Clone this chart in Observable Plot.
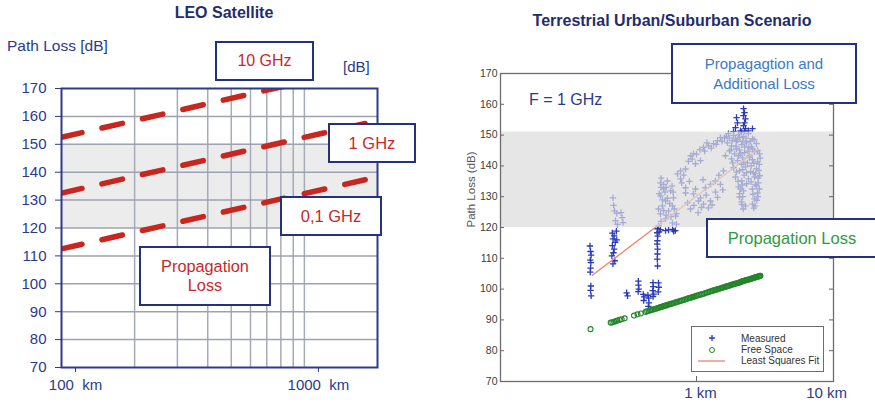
<!DOCTYPE html>
<html><head><meta charset="utf-8">
<script src="https://cdn.jsdelivr.net/npm/d3@7"></script>
<script src="https://cdn.jsdelivr.net/npm/@observablehq/plot@0.6"></script>
<style>
body{margin:0;background:#fff;font-family:"Liberation Sans",Arial,sans-serif;}
#wrap{position:relative;width:875px;height:408px;overflow:hidden;background:#fff;}
#wrap svg.chart{position:absolute;top:0;}
.t{position:absolute;white-space:nowrap;z-index:3;}
.box{position:absolute;box-sizing:border-box;border:2px solid #22327c;background:#fff;display:flex;flex-direction:column;align-items:center;justify-content:center;text-align:center;z-index:4;white-space:nowrap;}
.title{font-weight:bold;font-size:16px;color:#1f2d6e;transform:translate(-50%,-50%);}
</style></head><body><div id="wrap"></div>
<script>
// ---------- LEFT PANEL: LEO Satellite ----------
const leoDomainKm = [100, 2000];
const leoDomainDb = [70, 170];
const leoYTicks = [70, 80, 90, 100, 110, 120, 130, 140, 150, 160, 170];
const leoXTicks = [100, 1000];
const leoGridX = [200, 300, 400, 500, 600, 700, 800, 900, 1000];
const leoGridY = [80, 90, 100, 110, 120, 130, 140, 150, 160];
const leoBandDb = [120, 150];
const leoKm = [100, 2000];
const leoLoss10GHz = [152.5, 178.5];
const leoLoss1GHz = [132.5, 158.5];
const leoLoss01GHz = [112.5, 138.3];

// ---------- RIGHT PANEL: Terrestrial ----------
const terrDomainKm = [0.1, 5];
const terrDomainDb = [70, 170];
const terrYTicks = [70, 80, 90, 100, 110, 120, 130, 140, 150, 160, 170];
const terrBandDb = [120, 151];
const terrXLabels = [{km: 1, text: "1 km"}, {km: 4.4, text: "10 km"}];
const fitKm = [0.294, 2.07];
const fitDb = [104.5, 145.5];
const freeSpaceKm = [0.288,0.365,0.372,0.380,0.388,0.395,0.405,0.415,0.43,0.48,0.50,0.52,0.55,0.57,0.59,0.61,0.63,0.65,0.67,0.69,0.71,0.73,0.75,0.78,0.80,0.83,0.86,0.89,0.92,0.95,0.98,1.01,1.05,1.09,1.13,1.17,1.21,1.25,1.29,1.33,1.37,1.41,1.45,1.49,1.53,1.57,1.61,1.65,1.69,1.73,1.77,1.81,1.85,1.89,1.93,1.97,2.01,2.05,2.09,2.12,
 0.56,0.58,0.60,0.62,0.64,0.66,0.68,0.70,0.72,0.74,0.765,0.79,0.815,0.845,0.875,0.905,0.935,0.965,0.995,1.03,1.07,1.11,1.15,1.19,1.23,1.27,1.31,1.35,1.39,1.43,1.47,1.51,1.55,1.59,1.63,1.67,1.71,1.75,1.79,1.83,1.87,1.91,1.95,1.99,2.03,2.07,2.11];
const freeSpaceDb = [87.0,89.1,89.2,89.4,89.6,89.8,90.0,90.2,90.5,91.4,91.8,92.1,92.6,92.9,93.2,93.5,93.8,94.1,94.3,94.6,94.8,95.1,95.3,95.6,95.9,96.2,96.5,96.8,97.1,97.4,97.6,97.9,98.2,98.5,98.9,99.2,99.5,99.7,100.0,100.3,100.5,100.8,101.0,101.3,101.5,101.7,101.9,102.1,102.4,102.6,102.8,103.0,103.1,103.3,103.5,103.7,103.9,104.0,104.2,104.3,
 92.8,93.1,93.4,93.6,93.9,94.2,94.5,94.7,95.0,95.2,95.5,95.8,96.0,96.3,96.6,97.0,97.2,97.5,97.8,98.1,98.4,98.7,99.0,99.3,99.6,99.9,100.1,100.4,100.7,100.9,101.1,101.4,101.6,101.8,102.0,102.2,102.5,102.7,102.9,103.0,103.2,103.4,103.6,103.8,104.0,104.1,104.3];
// measured samples [km, dB]
const measured = [
 [0.286,114.0],[0.288,112.2],[0.29,111.0],[0.287,109.4],[0.289,108.6],[0.288,106.8],[0.287,105.5],[0.289,101.0],[0.288,99.6],[0.29,97.8],
 [0.372,118.2],[0.38,117.3],[0.375,116.3],[0.385,115.2],[0.372,114.1],[0.38,113.0],[0.377,111.8],[0.37,110.8],[0.383,109.2],[0.375,108.2],[0.39,118.8],[0.392,116.0],
 [0.375,129.6],[0.378,127.2],[0.382,125.4],[0.392,124.6],[0.386,122.2],[0.395,121.0],[0.412,124.8],[0.418,123.2],[0.422,121.6],
 [0.44,98.8],[0.445,97.8],
 [0.505,102.6],[0.506,101.3],[0.508,100.0],[0.504,99.2],
 [0.535,98.3],[0.54,97.5],[0.538,96.3],
 [0.565,98.0],[0.57,97.1],[0.572,95.5],[0.568,94.4],
 [0.6,102.1],[0.602,100.8],[0.598,99.5],[0.605,98.4],[0.6,97.6],
 [0.64,102.0],[0.642,100.6],[0.638,99.1],
 [0.632,119.6],[0.63,118.3],[0.634,117.2],[0.632,115.7],[0.63,114.6],[0.633,113.0],[0.632,111.4],[0.631,109.7],[0.633,107.5],
 [0.655,119.3],[0.695,119.0],[0.72,119.2],[0.755,119.4],[0.78,119.0],[0.645,118.6],[0.765,118.8],
 [0.655,134.5],[0.678,132.5],[0.655,130.3],[0.695,128.6],[0.67,127.0],[0.72,125.4],[0.655,124.4],[0.695,122.8],[0.754,121.5],[0.64,120.5],
 [0.737,131.9],[0.763,129.6],[0.782,123.7],[0.711,135.1],[0.754,127.0],[0.79,121.1],[0.64,126.0],[0.645,131.0],[0.66,122.0],[0.70,133.0],
 [0.66,133.0],[0.67,129.0],[0.68,125.5],[0.69,131.5],[0.70,124.0],[0.71,129.5],[0.73,127.8],[0.74,123.5],[0.75,133.5],[0.77,126.0],[0.66,136.0],[0.68,134.0],[0.76,131.5],[0.79,124.5],
 [0.80,137.4],[0.829,135.8],[0.879,132.9],[0.90,128.0],[0.932,143.3],[0.965,144.0],[0.988,132.5],[1.024,128.6],[1.086,146.0],[1.111,132.9],
 [1.151,146.5],[1.178,128.6],[1.221,147.2],[1.250,135.1],[1.280,148.2],[1.325,149.2],[1.39,149.2],[1.048,141.7],[0.988,140.7],[0.829,138.4],
 [0.879,139.0],[1.405,143.3],[1.373,138.4],[0.88,131.2],[0.965,130.9],[1.048,129.6],[1.086,127.6],[1.151,126.4],[1.25,131.5],[1.325,134.0],[1.02,124.8],[0.932,126.0],
 [0.84,134.5],[0.86,137.0],[0.91,141.5],[0.95,142.2],[1.00,143.8],[1.04,145.3],[1.10,144.8],[1.13,147.5],[1.19,145.8],[1.26,147.0],[1.35,148.0],[1.42,149.6],
 [0.97,127.2],[1.06,126.5],[1.12,130.5],[1.20,127.3],[1.28,129.8],[1.36,132.2],[1.30,137.0],[1.18,134.0],[1.08,135.5],[0.92,135.0],
 [1.456,150.5],[1.545,149.8],[1.638,150.1],[1.738,149.5],[1.841,150.5],[1.930,148.8],
 [1.439,147.5],[1.509,146.5],[1.600,147.9],[1.698,146.9],[1.799,147.5],[1.908,146.2],[2.023,147.2],
 [1.474,144.9],[1.563,143.9],[1.657,145.2],[1.758,144.3],[1.863,143.3],[1.976,144.6],[2.096,143.9],
 [1.509,142.3],[1.619,141.7],[1.718,142.6],[1.820,141.0],[1.930,142.0],[2.047,141.3],
 [1.545,139.4],[1.657,138.4],[1.778,139.7],[1.886,138.1],[2.023,139.1],
 [1.581,136.4],[1.698,135.1],[1.841,135.8],[1.976,136.4],[2.071,134.5],
 [1.638,133.2],[1.738,131.9],[1.930,132.5],[2.047,131.2],
 [1.657,129.9],[1.698,128.3],[1.976,129.3],[1.930,127.6],[1.778,127.0],[2.023,133.5],
 [1.6,145.5],[1.7,140.5],[1.9,140.0],[2.0,137.5],[1.75,137.0],[1.85,146.0],[2.08,138.5],[2.06,130.0],[1.68,132.5],[1.62,148.5],
 [1.47,149.0],[1.52,148.2],[1.58,148.8],[1.66,149.2],[1.72,148.0],[1.79,149.0],[1.88,148.0],[1.97,148.5],
 [1.50,145.2],[1.59,146.3],[1.68,144.0],[1.76,146.2],[1.83,144.8],[1.93,145.5],[2.05,145.0],[2.11,142.5],
 [1.53,141.0],[1.64,143.3],[1.74,141.2],[1.86,142.8],[1.96,140.8],[2.09,140.5],[2.10,136.8],
 [1.60,138.0],[1.72,138.8],[1.80,137.8],[1.95,137.8],[2.06,136.0],
 [1.63,135.0],[1.71,133.8],[1.80,134.2],[1.90,134.8],[2.00,134.0],[2.09,132.5],
 [1.66,131.0],[1.72,130.0],[1.94,130.8],[2.03,128.8],[1.70,127.5],[1.99,127.0],[1.73,126.0],[1.96,126.3],
 [1.738,158.6],[1.758,157.3],[1.738,156.3],[1.778,155.3],[1.758,154.0],[1.738,153.1],[1.778,152.1],[1.600,155.7],[1.619,154.0],[1.581,152.4],
 [1.676,151.4],[1.930,152.1],[1.545,151.1],[1.841,151.4],[1.70,151.0],[1.76,151.2]
];

const navy = "#2a3a8c";
const wrap = document.getElementById("wrap");

const leoRows = [
  ["10 GHz", leoLoss10GHz], ["1 GHz", leoLoss1GHz], ["0,1 GHz", leoLoss01GHz]
].flatMap(([f, arr]) => arr.map((v, i) => ({f, km: leoKm[i], loss: v})));

const left = Plot.plot({
  width: 440, height: 408,
  marginLeft: 61, marginRight: 63, marginTop: 88, marginBottom: 41,
  x: {type: "log", domain: leoDomainKm},
  y: {domain: leoDomainDb},
  style: {background: "transparent", fontFamily: "Liberation Sans, Arial, sans-serif", fontSize: "15px", overflow: "visible"},
  marks: [
    Plot.rect([leoBandDb], {x1: () => leoDomainKm[0], x2: () => leoDomainKm[1], y1: d => d[0], y2: d => d[1], fill: "#ececec"}),
    Plot.ruleX(leoGridX, {stroke: "#a7abb8", strokeWidth: 1.5}),
    Plot.ruleY(leoGridY, {stroke: "#9ea2b0", strokeWidth: 1.5}),
    Plot.line(leoRows, {x: "km", y: "loss", z: "f", stroke: "#c8261e", strokeWidth: 5.5, strokeDasharray: "21,20.5", clip: true}),
    Plot.frame({stroke: "#2c3b8d", strokeWidth: 2}),
    Plot.axisY(leoYTicks, {tickSize: 6, tickPadding: 9, fontSize: 15, color: navy, label: null}),
    Plot.axisX(leoXTicks, {tickSize: 5, tickPadding: 7, fontSize: 15, color: navy, label: null, dx: 14,
      tickFormat: d => `${d}\u00a0\u00a0km`})
  ]
});
left.classList.add("chart");
left.style.left = "0px";
wrap.appendChild(left);

const fitRows = fitKm.map((k, i) => ({km: k, db: fitDb[i]}));
const fsRows = freeSpaceKm.map((k, i) => ({km: k, db: freeSpaceDb[i]}));
const frameW = 333;

const right = Plot.plot({
  width: 435, height: 408,
  marginLeft: 60, marginRight: 42, marginTop: 73, marginBottom: 27,
  x: {type: "log", domain: terrDomainKm, axis: null},
  y: {domain: terrDomainDb, axis: null},
  style: {background: "transparent", fontFamily: "Liberation Sans, Arial, sans-serif", fontSize: "10.5px", overflow: "visible"},
  marks: [
    Plot.dot(measured, {x: d => d[0], y: d => d[1], symbol: "plus", r: 2.2, stroke: "#2b3bb8", strokeWidth: 1.3}),
    Plot.line(fitRows, {x: "km", y: "db", stroke: "#f08070", strokeWidth: 1.3}),
    Plot.rect([terrBandDb], {x1: () => terrDomainKm[0], x2: () => terrDomainKm[1], y1: d => d[0], y2: d => d[1], fill: "#dbdbdb", fillOpacity: 0.7}),
    Plot.dot(fsRows, {x: "km", y: "db", r: 2.5, stroke: "#23862a", strokeWidth: 1.1, fill: "none"}),
    Plot.tickY(terrYTicks, {y: d => d, insetRight: frameW - 4, stroke: "#666"}),
    Plot.tickY(terrYTicks, {y: d => d, insetLeft: frameW - 4, stroke: "#666"}),
    Plot.tickX([1], {x: d => d, insetTop: 307 - 4, stroke: "#666"}),
    Plot.frame({stroke: "#6d6d6d", strokeWidth: 1.3}),
    Plot.axisY(terrYTicks, {tickSize: 0, tickPadding: 3, fontSize: 10.5, color: "#3c3c3c", label: null}),
    Plot.text(["Path Loss (dB)"], {text: d => d, frameAnchor: "left", rotate: -90, dx: -29, fontSize: 11.5, fill: "#555"}),
    Plot.text(terrXLabels, {x: "km", text: "text", frameAnchor: "bottom", dy: 16, dx: 4, fontSize: 15, fill: navy})
  ]
});
right.classList.add("chart");
right.style.left = "440px";
wrap.appendChild(right);

// ---------- annotations ----------
function addText(html, css, cls) {
  const d = document.createElement("div");
  d.className = cls || "t";
  d.innerHTML = html;
  Object.assign(d.style, css);
  wrap.appendChild(d);
  return d;
}
addText("LEO Satellite", {left: "224px", top: "13px"}, "t title");
addText("Terrestrial Urban/Suburban Scenario", {left: "672px", top: "21px"}, "t title");
addText("Path Loss [dB]", {left: "7px", top: "37px", fontSize: "15.5px", color: navy});
addText("[dB]", {left: "343px", top: "58px", fontSize: "15px", color: navy});
addText("F = 1 GHz", {left: "529px", top: "91px", fontSize: "16px", color: navy});

const red = "#c8282a";
addText("10 GHz", {left: "215px", top: "41px", width: "99px", height: "40px", fontSize: "16px", color: red}, "box");
addText("1 GHz", {left: "328px", top: "123px", width: "88px", height: "40px", fontSize: "16.5px", color: red}, "box");
addText("0,1 GHz", {left: "280px", top: "196px", width: "102px", height: "40px", fontSize: "16.5px", color: red}, "box");
addText("Propagation<br>Loss", {left: "139px", top: "246px", width: "132px", height: "60px", fontSize: "16.3px", lineHeight: "19.5px", color: red}, "box");
addText("Propagagtion and<br>Additional Loss", {left: "671px", top: "43px", width: "186px", height: "61px", fontSize: "15px", lineHeight: "20px", color: "#3b79c6"}, "box");
addText("Propagation Loss", {left: "706px", top: "218px", width: "172px", height: "40px", fontSize: "16.5px", color: "#2f9a3e"}, "box");

// legend
const lg = document.createElement("div");
lg.style.cssText = "position:absolute;left:691px;top:326px;width:133px;height:46px;box-sizing:border-box;border:1.3px solid #6d6d6d;background:#fff;z-index:3;";
lg.innerHTML = `<svg width="131" height="44" style="position:absolute;left:0;top:0;font-family:'Liberation Sans',Arial,sans-serif;font-size:10px;fill:#333">
<path d="M17,11h6M20,8v6" stroke="#2b3bb8" stroke-width="1.3" fill="none"/>
<circle cx="20" cy="23" r="2.5" stroke="#23862a" fill="none"/>
<line x1="6" x2="33" y1="34" y2="34" stroke="#f08070" stroke-width="1.3"/>
<text x="49" y="14.5">Measured</text>
<text x="49" y="26">Free Space</text>
<text x="49" y="37">Least Squares Fit</text>
</svg>`;
wrap.appendChild(lg);
</script></body></html>
